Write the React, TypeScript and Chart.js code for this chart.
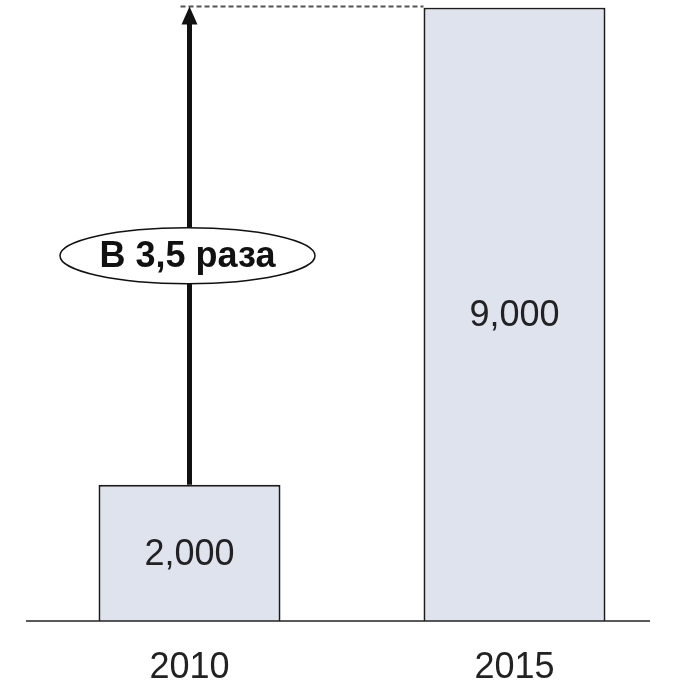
import React, { useEffect, useRef } from "react";
import { Chart, registerables } from "chart.js";

Chart.register(...registerables);

const categories: string[] = ["2010", "2015"];
const values: number[] = [2000, 9000];
const ratioLabel = "В 3,5 раза";
const FONT = "'Liberation Sans', Arial, sans-serif";

const annotatePlugin = {
  id: "annotate",
  afterDatasetsDraw(chart: any) {
    const ctx = chart.ctx;
    const meta = chart.getDatasetMeta(0);
    const area = chart.chartArea;
    const yScale = chart.scales.y;
    const b0 = meta.data[0];
    const b1 = meta.data[1];

    // baseline
    ctx.save();
    ctx.strokeStyle = "#222";
    ctx.lineWidth = 1.5;
    ctx.beginPath();
    ctx.moveTo(area.left - 1, area.bottom);
    ctx.lineTo(area.right - 27, area.bottom);
    ctx.stroke();

    // value labels
    ctx.fillStyle = "#222";
    ctx.font = `36px ${FONT}`;
    ctx.textAlign = "center";
    ctx.textBaseline = "middle";
    meta.data.forEach((bar: any, i: number) => {
      ctx.fillText(values[i].toLocaleString("en-US"), bar.x, (bar.y + bar.base) / 2 + 2);
    });

    // arrow
    const ax = b0.x;
    const yTop = yScale.getPixelForValue(Math.max(...values));
    const yBottom = b0.y;
    const headH = 17;
    const headW = 16;

    // dashed line
    ctx.strokeStyle = "#555";
    ctx.lineWidth = 1.8;
    ctx.setLineDash([5, 3]);
    ctx.beginPath();
    ctx.moveTo(ax - 9, yTop - 1);
    ctx.lineTo(b1.x - b1.width / 2, yTop - 1);
    ctx.stroke();
    ctx.setLineDash([]);

    ctx.strokeStyle = "#111";
    ctx.lineWidth = 5;
    ctx.beginPath();
    ctx.moveTo(ax, yBottom);
    ctx.lineTo(ax, yTop + headH - 2);
    ctx.stroke();
    ctx.fillStyle = "#111";
    ctx.beginPath();
    ctx.moveTo(ax, yTop - 1);
    ctx.lineTo(ax - headW / 2, yTop + headH);
    ctx.lineTo(ax + headW / 2, yTop + headH);
    ctx.closePath();
    ctx.fill();

    // ellipse label
    const ey = area.top + (area.bottom - area.top) * 0.4046;
    const ex = ax - 2;
    ctx.beginPath();
    ctx.ellipse(ex, ey, 127.5, 28, 0, 0, Math.PI * 2);
    ctx.fillStyle = "#fff";
    ctx.fill();
    ctx.lineWidth = 1.5;
    ctx.strokeStyle = "#111";
    ctx.stroke();
    ctx.fillStyle = "#111";
    ctx.font = `bold 36px ${FONT}`;
    ctx.textAlign = "center";
    ctx.textBaseline = "middle";
    ctx.fillText(ratioLabel, ex, ey + 1);
    ctx.restore();
  },
};

export default function App() {
  const ref = useRef<HTMLCanvasElement>(null);
  useEffect(() => {
    if (!ref.current) return;
    const chart = new Chart(ref.current, {
      type: "bar",
      data: {
        labels: categories,
        datasets: [
          {
            data: values,
            backgroundColor: "#dee3ee",
            borderColor: "#1c1c1c",
            borderWidth: 2,
            barPercentage: 1,
            categoryPercentage: 0.56,
          },
        ],
      },
      options: {
        responsive: false,
        animation: false,
        layout: { padding: { left: 27, right: 0, top: 7.5, bottom: 0 } },
        plugins: { legend: { display: false }, tooltip: { enabled: false } },
        scales: {
          x: {
            grid: { display: false, drawTicks: false },
            border: { display: false },
            ticks: { color: "#222", padding: 25, font: { size: 36, family: FONT } },
            afterFit: (scale: any) => {
              scale.height = 60;
            },
          },
          y: { display: false, min: 0, max: 9000 },
        },
      },
      plugins: [annotatePlugin],
    });
    return () => chart.destroy();
  }, []);
  return (
    <div style={{ position: "absolute", left: 0, top: 0, width: 677, height: 681, background: "#fff" }}>
      <canvas ref={ref} width={677} height={681} />
    </div>
  );
}
